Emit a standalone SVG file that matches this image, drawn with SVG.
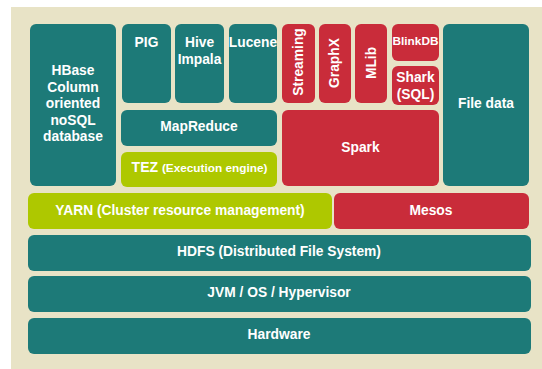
<svg xmlns="http://www.w3.org/2000/svg" width="542" height="369" viewBox="0 0 542 369">
<style>
.t{fill:#1d7a78}.r{fill:#c92c3a}.g{fill:#aec800}
text{font-family:"Liberation Sans",Arial,sans-serif;font-weight:bold;fill:#fff;text-anchor:middle;font-size:13.8px}
.s{font-size:11.8px}
</style>
<rect x="11" y="7" width="531" height="362" fill="#e8e3c6"/>
<g id="hbase"><rect class="t" x="30" y="24" width="86" height="162" rx="6"/>
<text x="73" y="75">HBase</text><text x="73" y="92">Column</text><text x="73" y="108">oriented</text><text x="73" y="125">noSQL</text><text x="73" y="141">database</text></g>
<g id="pig"><rect class="t" x="122" y="24" width="49" height="79" rx="6"/><text x="146.5" y="47">PIG</text></g>
<g id="hive"><rect class="t" x="175" y="24" width="49" height="79" rx="6"/><text x="199.5" y="47">Hive</text><text x="199.5" y="64">Impala</text></g>
<g id="lucene"><rect class="t" x="229" y="24" width="48" height="79" rx="6"/><text x="253" y="47">Lucene</text></g>
<g id="mapreduce"><rect class="t" x="121" y="110" width="156" height="36" rx="6"/><text x="199" y="131">MapReduce</text></g>
<g id="tez"><rect class="g" x="121" y="152" width="156" height="35" rx="6"/><text x="199.5" y="172"><tspan font-size="14">TEZ</tspan> <tspan class="s">(Execution engine)</tspan></text></g>
<g id="streaming"><rect class="r" x="282" y="24" width="33" height="79" rx="6"/><text transform="translate(302.5 62) rotate(-90)">Streaming</text></g>
<g id="graphx"><rect class="r" x="319" y="24" width="32" height="79" rx="6"/><text transform="translate(338.5 63) rotate(-90)">GraphX</text></g>
<g id="mlib"><rect class="r" x="355" y="24" width="32" height="79" rx="6"/><text transform="translate(376 63) rotate(-90)">MLib</text></g>
<g id="blinkdb"><rect class="r" x="392" y="24" width="47" height="37" rx="6"/><text class="s" x="415.5" y="45">BlinkDB</text></g>
<g id="shark"><rect class="r" x="392" y="66" width="47" height="39" rx="6"/><text x="415.5" y="82">Shark</text><text x="415.5" y="99">(SQL)</text></g>
<g id="spark"><rect class="r" x="282" y="110" width="157" height="76" rx="6"/><text x="360.5" y="152">Spark</text></g>
<g id="filedata"><rect class="t" x="443" y="24" width="86" height="162" rx="6"/><text x="486" y="108">File data</text></g>
<g id="yarn"><rect class="g" x="28" y="193" width="304" height="36" rx="6"/><text x="180" y="215">YARN (Cluster resource management)</text></g>
<g id="mesos"><rect class="r" x="334" y="193" width="195" height="36" rx="6"/><text x="431" y="215">Mesos</text></g>
<g id="hdfs"><rect class="t" x="28" y="235" width="503" height="36" rx="6"/><text x="279" y="256">HDFS (Distributed File System)</text></g>
<g id="jvm"><rect class="t" x="28" y="276" width="503" height="36" rx="6"/><text x="279" y="297">JVM / OS / Hypervisor</text></g>
<g id="hardware"><rect class="t" x="28" y="318" width="503" height="36" rx="6"/><text x="279" y="339">Hardware</text></g>
<g id="connectors"/>
</svg>
